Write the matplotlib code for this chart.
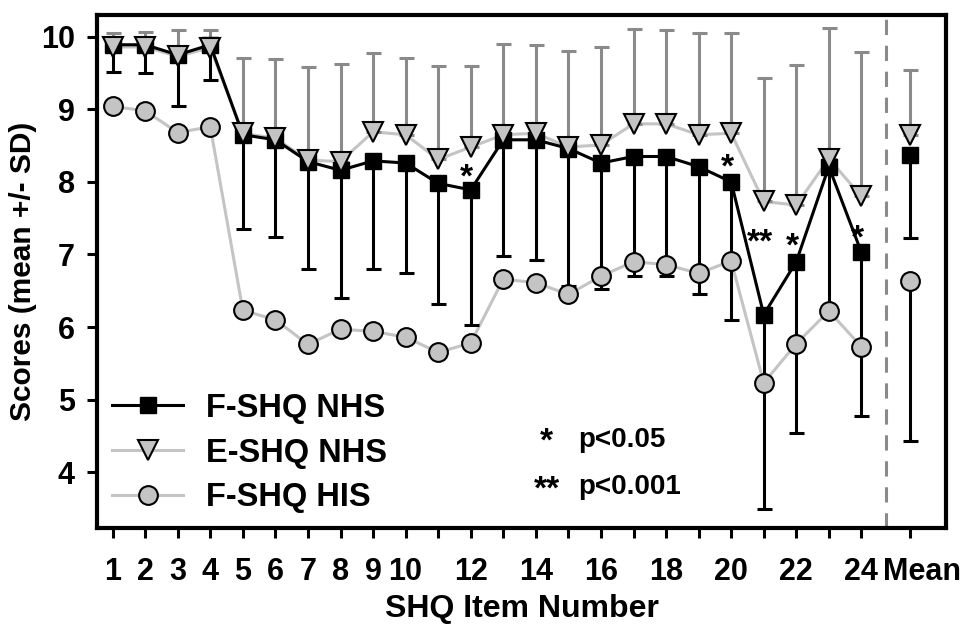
import numpy as np
import matplotlib
matplotlib.use('Agg')
import matplotlib.pyplot as plt
import matplotlib.transforms as mtransforms

plt.rcParams['font.family'] = ['Liberation Sans', 'DejaVu Sans']
plt.rcParams['font.weight'] = 'bold'
plt.rcParams['axes.labelweight'] = 'bold'

# 항목 번호 (1-24) + 평균
items = list(range(1, 25))
tick_labels = ['1', '2', '3', '4', '5', '6', '7', '8', '9', '10', '', '12', '', '14',
               '', '16', '', '18', '', '20', '', '22', '', '24', 'Mean']

# F-SHQ NHS (평균, 하방 SD)
fnhs_mean = [9.89, 9.89, 9.75, 9.89, 8.65, 8.58, 8.28, 8.16, 8.29, 8.26, 7.98, 7.89,
             8.58, 8.58, 8.46, 8.26, 8.35, 8.35, 8.21, 8.00, 6.17, 6.90, 8.21, 7.03, 8.37]
fnhs_sd = [0.37, 0.39, 0.70, 0.49, 1.30, 1.34, 1.48, 1.76, 1.49, 1.51, 1.66, 1.86,
           1.60, 1.65, 1.89, 1.73, 1.65, 1.65, 1.75, 1.91, 2.68, 2.36, 1.99, 2.26, 1.15]

# E-SHQ NHS (평균, 상방 SD)
enhs_mean = [9.86, 9.86, 9.73, 9.85, 8.67, 8.60, 8.30, 8.28, 8.69, 8.65, 8.31, 8.48,
             8.65, 8.67, 8.48, 8.51, 8.80, 8.80, 8.65, 8.67, 7.73, 7.68, 8.32, 7.80, 8.65]
enhs_sd = [0.19, 0.20, 0.37, 0.25, 1.04, 1.09, 1.28, 1.35, 1.08, 1.06, 1.29, 1.12,
           1.25, 1.21, 1.33, 1.35, 1.31, 1.30, 1.40, 1.38, 1.70, 1.93, 1.80, 1.99, 0.89]

# F-SHQ HIS (평균, SD는 Mean 항목에만 표시)
fhis_mean = [9.04, 8.98, 8.68, 8.76, 6.23, 6.10, 5.76, 5.97, 5.94, 5.86, 5.65, 5.78,
             6.66, 6.61, 6.45, 6.70, 6.90, 6.86, 6.74, 6.91, 5.23, 5.77, 6.22, 5.73, 6.63]
fhis_mean_sd = 2.20

# 유의성 표시
star_items = [12, 20, 21, 22, 24]
star_labels = ['*', '*', '**', '*', '*']
star_y = [8.19, 8.34, 7.30, 7.25, 7.36]

x = np.array(items + [25.5], dtype=float)
zeros = np.zeros(len(x))

fig = plt.figure(figsize=(9.7, 6.36), dpi=100)
ax = fig.add_axes([0.1, 0.1698, 0.8753, 0.8066])

light = '#c4c4c4'
mid = '#8a8a8a'

# 연결선 (평균 항목은 제외)
ax.plot(x[:24], fhis_mean[:24], color=light, lw=2.2, zorder=2)
ax.plot(x[:24], enhs_mean[:24], color=light, lw=2.2, zorder=2)
ax.plot(x[:24], fnhs_mean[:24], color='black', lw=2.2, zorder=3)

# 오차 막대
ax.errorbar(x, enhs_mean, yerr=[zeros, enhs_sd], fmt='none', ecolor=mid,
            elinewidth=2.2, capsize=5.4, capthick=2.2, zorder=3)
ax.errorbar(x, fnhs_mean, yerr=[fnhs_sd, zeros], fmt='none', ecolor='black',
            elinewidth=2.2, capsize=5.4, capthick=2.2, zorder=3)
ax.errorbar([x[-1]], [fhis_mean[-1]], yerr=[[fhis_mean_sd], [0]], fmt='none',
            ecolor='black', elinewidth=2.2, capsize=5.4, capthick=2.2, zorder=3)

# 마커
ax.plot(x, fnhs_mean, 's', color='black', ms=12, zorder=4)
ax.plot(x, enhs_mean, 'v', mfc=light, mec='black', mew=1.5, ms=14, zorder=5)
ax.plot(x, fhis_mean, 'o', mfc=light, mec='black', mew=1.5, ms=13.5, zorder=5)

# 범례용 핸들
h1, = ax.plot([], [], '-s', color='black', lw=2.2, ms=12)
h2, = ax.plot([], [], '-v', color=light, lw=2.2, mfc=light, mec='black', mew=1.5, ms=14)
h3, = ax.plot([], [], '-o', color=light, lw=2.2, mfc=light, mec='black', mew=1.5, ms=13.5)
ax.legend([h1, h2, h3], ['F-SHQ NHS', 'E-SHQ NHS', 'F-SHQ HIS'], loc='lower left',
          bbox_to_anchor=(0.0, 0.0), frameon=False, fontsize=23.5, handlelength=2.2,
          handletextpad=0.68, labelspacing=0.42, borderpad=0.3, borderaxespad=0.15)

# 별표
for it, lab, yy in zip(star_items, star_labels, star_y):
    ax.text(it - 0.12, yy - 0.26, lab, ha='center', va='baseline', fontsize=24)

ax.text(14.34, 4.30, '*', ha='center', va='baseline', fontsize=24)
ax.text(15.29, 4.34, 'p<0.05', ha='left', va='baseline', fontsize=20)
ax.text(14.34, 3.64, '**', ha='center', va='baseline', fontsize=24)
ax.text(15.29, 3.70, 'p<0.001', ha='left', va='baseline', fontsize=20)

# 평균 구분선
ax.axvline(24.75, color=mid, lw=2.2, linestyle=(0, (5, 3.5)), zorder=1)

ax.set_xlim(0.52, 26.6)
ax.set_ylim(3.23, 10.3)
ax.set_xticks(x)
ax.set_xticklabels(tick_labels, fontsize=22)
ax.set_yticks([4, 5, 6, 7, 8, 9, 10])
ax.set_yticklabels(['4', '5', '6', '7', '8', '9', '10'], fontsize=22)
ax.tick_params(axis='both', direction='out', length=7, width=2.2)
ax.tick_params(axis='x', pad=14)
ax.tick_params(axis='y', pad=9)

# "Mean" 라벨은 오른쪽으로 살짝 이동
mean_lab = ax.get_xticklabels()[-1]
mean_lab.set_transform(mean_lab.get_transform() +
                       mtransforms.ScaledTranslation(12 / 100, 0, fig.dpi_scale_trans))

for sp in ax.spines.values():
    sp.set_linewidth(3)

ax.set_xlabel('SHQ Item Number', fontsize=23, labelpad=5)
ax.set_ylabel('Scores (mean +/- SD)', fontsize=21.5, labelpad=3)

plt.savefig('out.png', dpi=100)
